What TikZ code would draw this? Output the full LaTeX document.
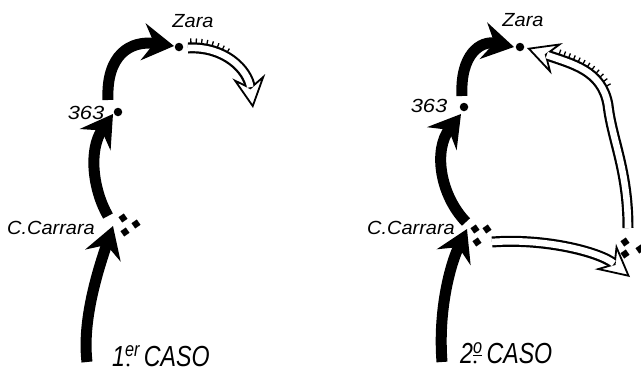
\documentclass[tikz,border=0pt]{standalone}
\usepackage{fontspec}
\setmainfont{Liberation Sans}
\usetikzlibrary{arrows.meta,decorations.markings,calc}
\begin{document}
\begin{tikzpicture}[x=1pt,y=1pt,
  lbl/.style={font=\itshape\fontsize{19}{19}\selectfont, inner sep=0pt},
  caso/.style={font=\itshape\fontsize{29}{29}\selectfont, inner sep=0pt, anchor=base west},
  blk/.style={line width=11pt, -{Stealth[length=31pt,width=37pt,inset=11pt]}},
  dotn/.style={circle, fill=black, inner sep=0pt, minimum size=8.5pt},
  smalldot/.style={circle, fill=black, inner sep=0pt, minimum size=3.2pt},
  fort/.style={fill=black, inner sep=0pt, minimum size=6.5pt, rotate=35},
  openshaft/.style={line width=11pt, -{Stealth[length=32pt,width=33pt,inset=11pt,fill=white,line width=1.8pt]}},
  openinner/.style={white, line width=6.6pt, shorten >=21pt},
  ticksL/.style={decorate, decoration={markings, mark=between positions #1 step 5pt with {\draw[line width=1.3pt] (0,5) -- (0,9.5);}}},
  ticksR/.style={decorate, decoration={markings, mark=between positions #1 step 5pt with {\draw[line width=1.3pt] (0,-5) -- (0,-9.5);}}},
]
\useasboundingbox (0,0) rectangle (641,-373);

% ---------------- 1er caso ----------------
\node[dotn] (zaraL) at (179,-47) {};
\node[dotn] (dL) at (118,-112) {};
\node[lbl] (zaraLt) at (193,-21) {\scalebox{1.05}[1]{Zara}};
\node[lbl] (n363L) at (86,-113) {\scalebox{1.15}[1]{363}};
\node[lbl] (carL) at (51,-228) {\scalebox{1.05}[1]{C.Carrara}};
\node[fort] (fL1) at (123,-218) {};
\node[fort] (fL2) at (136,-224) {};
\node[fort] (fL3) at (125,-232) {};
\node[caso] (casoL) at (112,-366) {\scalebox{0.8}[1]{1\textsuperscript{er}\kern5pt CASO}};
\node[smalldot] (casoLdot) at (128,-365) {};

\coordinate (a1) at (87,-362);
\coordinate (a2) at (113,-226);
\coordinate (b1) at (108,-216);
\coordinate (b2) at (113,-114);
\coordinate (c1) at (108,-100);
\coordinate (c2) at (174,-46);
\coordinate (o1) at (188,-48);
\coordinate (o2) at (253,-108);

\draw[blk] (a1) .. controls (82,-320) and (98,-270) .. (a2);
\draw[blk] (b1) .. controls (93,-190) and (88,-150) .. (b2);
\draw[blk] (c1) .. controls (106,-55) and (130,-40) .. (c2);

\draw[openshaft] (o1) .. controls (225,-46) and (248,-70) .. (o2);
\draw[openinner] (o1) .. controls (225,-46) and (248,-70) .. (o2);
\path[ticksL={0.03 and 0.42}] (o1) .. controls (225,-46) and (248,-70) .. (o2);

% ---------------- 2o caso ----------------
\node[dotn] (zaraR) at (520,-47) {};
\node[dotn] (dR) at (464,-107) {};
\node[lbl] (zaraRt) at (523,-20) {\scalebox{1.05}[1]{Zara}};
\node[lbl] (n363R) at (429,-106) {\scalebox{1.15}[1]{363}};
\node[lbl] (carR) at (411,-228) {\scalebox{1.05}[1]{C.Carrara}};
\node[fort] (fR1) at (475,-229) {};
\node[fort] (fR2) at (487,-229) {};
\node[fort] (fR3) at (477,-242) {};
\node[fort] (fS1) at (625,-242) {};
\node[fort] (fS2) at (625,-254) {};
\node[fort] (fS3) at (640,-249) {};
\node[caso] (casoR) at (460,-363) {\scalebox{0.8}[1]{2\textsuperscript{\underline{o}}\kern5pt CASO}};
\node[smalldot] (casoRdot) at (475,-362) {};

\coordinate (d1) at (442,-362);
\coordinate (d2) at (467,-229);
\coordinate (e1) at (466,-222);
\coordinate (e2) at (461,-114);
\coordinate (f1) at (462,-96);
\coordinate (f2) at (514,-47);
\coordinate (g1) at (628,-228);
\coordinate (gm) at (608,-105);
\coordinate (g2) at (527,-48);
\coordinate (h1) at (492,-242);
\coordinate (h2) at (630,-277);

\draw[blk] (d1) .. controls (438,-310) and (450,-265) .. (d2);
\draw[blk] (e1) .. controls (440,-195) and (433,-150) .. (e2);
\draw[blk] (f1) .. controls (460,-55) and (480,-40) .. (f2);

\draw[openshaft] (g1) .. controls (628,-170) and (612,-140) .. (gm) .. controls (602,-70) and (572,-64) .. (g2);
\draw[openinner] (g1) .. controls (628,-170) and (612,-140) .. (gm) .. controls (602,-70) and (572,-64) .. (g2);
\path[ticksR={0.62 and 0.86}] (g1) .. controls (628,-170) and (612,-140) .. (gm) .. controls (602,-70) and (572,-64) .. (g2);

\draw[openshaft] (h1) .. controls (545,-238) and (600,-252) .. (h2);
\draw[openinner] (h1) .. controls (545,-238) and (600,-252) .. (h2);
\end{tikzpicture}
\end{document}
